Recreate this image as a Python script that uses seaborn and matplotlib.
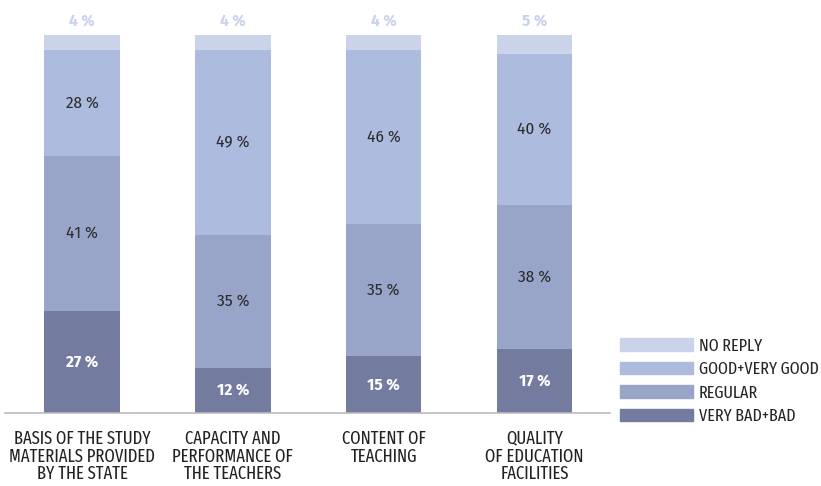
import seaborn as sns
import matplotlib.pyplot as plt
import numpy as np
import pandas as pd
from matplotlib.patches import Patch

categories = ["BASIS OF THE STUDY\nMATERIALS PROVIDED\nBY THE STATE",
              "CAPACITY AND\nPERFORMANCE OF\nTHE TEACHERS",
              "CONTENT OF\nTEACHING",
              "QUALITY\nOF EDUCATION\nFACILITIES"]
very_bad_bad = [27, 12, 15, 17]
regular = [41, 35, 35, 38]
good_very_good = [28, 49, 46, 40]
no_reply = [4, 4, 4, 5]

series_names = ["VERY BAD+BAD", "REGULAR", "GOOD+VERY GOOD", "NO REPLY"]
colors = ["#737b9f", "#98a4c8", "#adbbdf", "#cbd3ea"]

sns.set_style("white")
plt.rcParams['font.family'] = ['Fira Sans Extra Condensed', 'Fira Sans Condensed',
                               'Barlow Semi Condensed', 'DejaVu Sans']
num_font = ['Fira Sans Condensed', 'Barlow Semi Condensed', 'DejaVu Sans']

fig = plt.figure(figsize=(8.21, 4.86), dpi=100)
ax = fig.add_axes([5 / 821, 73 / 486, 605 / 821, 378 / 486])

df = pd.DataFrame({"cat": categories, "vb": very_bad_bad, "reg": regular,
                   "good": good_very_good, "nr": no_reply})
layers = [df["vb"], df["reg"], df["good"], df["nr"]]
cums = np.cumsum(np.array(layers), axis=0)

# draw cumulative totals back to front
for i in range(3, -1, -1):
    sns.barplot(x=df["cat"], y=cums[i], color=colors[i], width=0.5,
                saturation=1, linewidth=0, ax=ax, zorder=2)

# labels inside segments
for j in range(len(categories)):
    bottom = 0
    for i in range(3):
        v = layers[i][j]
        mid = bottom + v / 2
        if i == 0:
            ax.text(j, mid, f"{v} %", ha="center", va="center", fontsize=12.3,
                    color="white", fontweight="bold", family=num_font)
        else:
            ax.text(j, mid, f"{v} %", ha="center", va="center", fontsize=12.3,
                    color="#2b2b2b", family=num_font)
        bottom += v
    ax.text(j, 103.6, f"{no_reply[j]} %", ha="center", va="center", fontsize=12.3,
            color=colors[3], fontweight="bold", clip_on=False, family=num_font)

ax.set_ylim(0, 100)
ax.set_xlim(-0.51, 3.5)
ax.set_xlabel("")
ax.set_ylabel("")
ax.set_yticks([])
ax.tick_params(axis="x", length=0, pad=12, labelsize=13, labelcolor="#222222")
for lab in ax.get_xticklabels():
    lab.set_linespacing(1.0)
sns.despine(ax=ax, left=True)
ax.spines["bottom"].set_color("#bbbbbb")
ax.spines["bottom"].set_linewidth(1.2)

handles = [Patch(color=colors[i], label=series_names[i]) for i in range(3, -1, -1)]
fig.legend(handles=handles, loc="upper left", bbox_to_anchor=(613 / 821, 1 - 331 / 486),
           frameon=False, fontsize=12.5, handlelength=4.2, handleheight=0.75,
           labelspacing=0.43, handletextpad=0.35, borderaxespad=0)

plt.savefig("out.png", dpi=100)
